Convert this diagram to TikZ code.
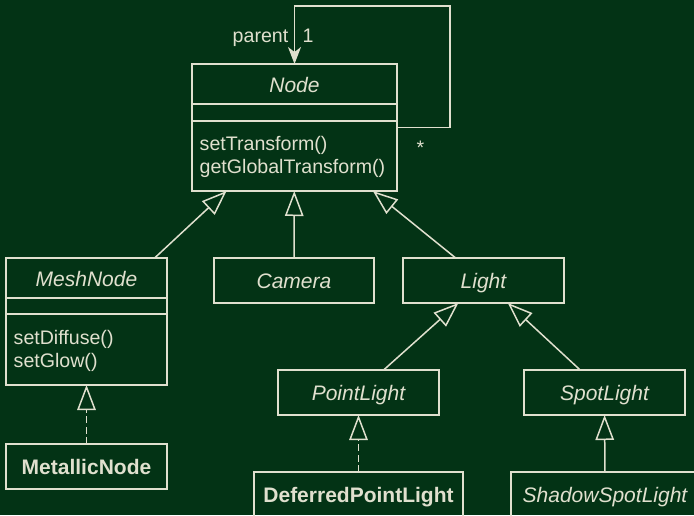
\documentclass[tikz,border=0pt]{standalone}
\usepackage{fontspec}
\setmainfont{Liberation Sans}
\usetikzlibrary{arrows.meta}

\definecolor{bg}{RGB}{3,51,21}
\definecolor{ink}{RGB}{224,224,206}

\newcommand\memberfont{\fontsize{19.6}{23.4}\selectfont}
\newcommand\classfont{\fontsize{21}{25}\selectfont}

\tikzset{
  box/.style={draw, rectangle, inner sep=0pt, outer sep=0pt, line width=1.5pt},
  simple/.style={box, minimum height=45pt, text height=15pt, text depth=0pt},
  abstractname/.style={font=\classfont\itshape},
  concretename/.style={font=\classfont\bfseries},
  cname/.style={font=\classfont\itshape, anchor=base, inner sep=0pt},
  member/.style={font=\memberfont, anchor=base west, inner sep=0pt},
  lbl/.style={font=\memberfont, inner sep=0pt},
  gen/.style={line width=1.5pt, -{Triangle[open, length=25pt, width=18.5pt, line width=1.5pt]}},
  realize/.style={gen, dash pattern=on 7pt off 3.5pt},
  assoc/.style={line width=1.5pt, -{Stealth[length=17pt, width=13pt, inset=5pt]}},
}

\begin{document}
\begin{tikzpicture}[x=1pt, y=-1pt, color=ink]
  \useasboundingbox (0,0) rectangle (694,515);
  \fill[bg] (0,0) rectangle (694,515);

  % Node: three-compartment class
  \node[box, minimum width=205pt, minimum height=127pt] (node) at (294.5,127.5) {};
  \draw[line width=1.5pt] ([yshift=-40pt]node.north west) -- ([yshift=-40pt]node.north east);
  \draw[line width=1.5pt] ([yshift=-57pt]node.north west) -- ([yshift=-57pt]node.north east);
  \node[cname] (nodename) at ([yshift=-28pt]node.north) {Node};
  \node[member] (nodeop1) at ([xshift=7.5pt, yshift=-86pt]node.north west) {setTransform()};
  \node[member] (nodeop2) at ([xshift=7.5pt, yshift=-109.3pt]node.north west) {getGlobalTransform()};

  % MeshNode: three-compartment class
  \node[box, minimum width=161pt, minimum height=127pt] (mesh) at (86.5,321.5) {};
  \draw[line width=1.5pt] ([yshift=-40pt]mesh.north west) -- ([yshift=-40pt]mesh.north east);
  \draw[line width=1.5pt] ([yshift=-56pt]mesh.north west) -- ([yshift=-56pt]mesh.north east);
  \node[cname] (meshname) at ([yshift=-28pt]mesh.north) {MeshNode};
  \node[member] (meshop1) at ([xshift=7.5pt, yshift=-86pt]mesh.north west) {setDiffuse()};
  \node[member] (meshop2) at ([xshift=7.5pt, yshift=-109.3pt]mesh.north west) {setGlow()};

  % single-compartment classes
  \node[simple, abstractname, minimum width=160pt] (camera) at (294,280.5) {Camera};
  \node[simple, abstractname, minimum width=161pt] (light) at (483.5,280.5) {Light};
  \node[simple, abstractname, minimum width=161pt] (point) at (358.5,392.5) {PointLight};
  \node[simple, abstractname, minimum width=161pt] (spot) at (604.5,392.5) {SpotLight};
  \node[simple, concretename, minimum width=161pt] (metallic) at (86.5,466.5) {MetallicNode};
  \node[simple, concretename, minimum width=209pt] (deferred) at (358.5,494.5) {DeferredPointLight};
  \node[simple, abstractname, minimum width=188pt] (shadow) at (605,494.5) {ShadowSpotLight};

  % parent association (self loop)
  \coordinate (loop) at (450,6);
  \draw[assoc] (node.east) -| (loop) -| (node.north);
  \node[lbl, anchor=base east] (parentlbl) at ([xshift=-6pt, yshift=22pt]node.north) {parent};
  \node[lbl, anchor=base west] (onelbl) at ([xshift=8pt, yshift=22pt]node.north) {1};
  \node[lbl, anchor=base] (manylbl) at ([xshift=23.5pt, yshift=-26.5pt]node.east) {*};

  % inheritance
  \draw[gen] (mesh) -- (node);
  \draw[gen] (camera) -- (node);
  \draw[gen] (light) -- (node);
  \draw[gen] (point) -- (light);
  \draw[gen] (spot) -- (light);
  \draw[gen] (shadow) -- (spot);
  \draw[realize] (metallic) -- (mesh);
  \draw[realize] (deferred) -- (point);
\end{tikzpicture}
\end{document}
